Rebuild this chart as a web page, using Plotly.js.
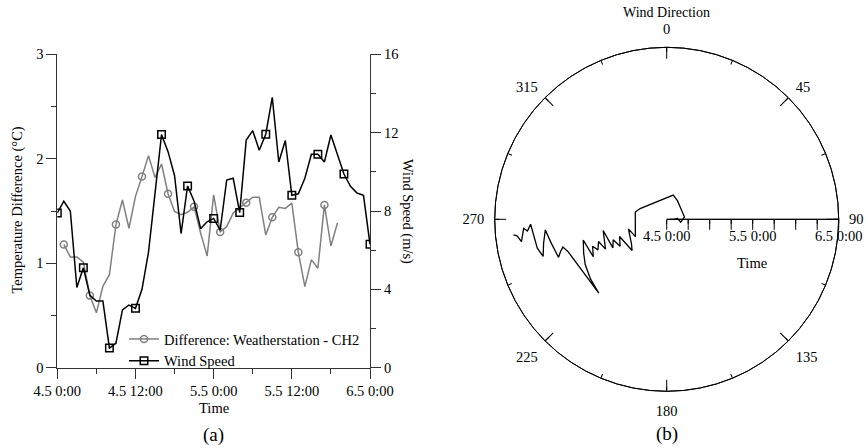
<!DOCTYPE html>
<html>
<head>
<meta charset="utf-8">
<script src="https://cdn.plot.ly/plotly-3.0.1.min.js"></script>
<style>html,body{margin:0;padding:0;background:#fff}#chart{width:865px;height:448px}</style>
</head>
<body>
<div id="chart"></div>
<script>
// ---- data (hours since 4.5 0:00) ----
const windHours = [0,1,2,3,4,5,6,7,8,9,10,11,12,13,14,15,16,17,18,19,20,21,22,23,24,25,26,27,28,29,30,31,32,33,34,35,36,37,38,39,40,41,42,43,44,45,46,47,48];
const windSpeed = [7.9,8.5,8.0,4.1,5.1,3.7,3.4,3.4,1.0,1.25,2.95,3.2,3.03,4.0,5.9,9.0,11.9,11.03,9.8,6.85,9.28,8.5,7.1,7.45,7.62,7.02,9.58,9.67,7.92,11.62,12.1,11.1,11.92,13.8,10.5,11.6,8.8,8.88,9.67,10.9,10.9,10.5,11.88,10.88,9.89,9.26,8.92,8.8,6.3];
const diffHours = [1,2,3,4,5,6,7,8,9,10,11,12,13,14,15,16,17,18,19,20,21,22,23,24,25,26,27,28,29,30,31,32,33,34,35,36,37,38,39,40,41,42,43];
const tempDiff = [1.18,1.06,1.06,1.01,0.69,0.525,0.78,0.89,1.37,1.605,1.335,1.64,1.83,2.03,1.82,1.95,1.665,1.495,1.465,1.488,1.54,1.288,1.07,1.655,1.30,1.35,1.48,1.53,1.58,1.632,1.632,1.27,1.44,1.535,1.525,1.575,1.105,0.776,1.035,0.952,1.558,1.165,1.385];
const dirHours = [1,2,3,4,5,6,7,8,9,10,11,12,13,14,15,16,17,18,19,20,21,22,23,24,25,26,27,28,29,30,31,32,33,34,35,36,37,38,39,40,41,42,43];
const windDir = [90,90,85,102,82,30,15,292,283,241,256,235,228,250,240,249,242,260,244,252,246,250,243,256,248,241,232,222.6,252,255,253,250.6,259,265,259,253.3,257.4,267.9,265.2,266.4,261.3,263.7,264.2];
const timeTickVals = [0,12,24,36,48];
const timeTickText = ['4.5 0:00','4.5 12:00','5.5 0:00','5.5 12:00','6.5 0:00'];
const radialTickVals = [0,6,12,18,24,30,36,42,48];
const radialTickText = ['4.5 0:00','','','','5.5 0:00','','','','6.5 0:00'];
const dirMinorVals = [0,22.5,45,67.5,90,112.5,135,157.5,180,202.5,225,247.5,270,292.5,315,337.5];
const dirMajorVals = [0,45,90,135,180,225,270,315];
const dirLabels = ['0','45','90','135','180','225','270','315'];

const FONT = '"Liberation Serif", "Times New Roman", Times, serif';
const FS = 14.5;
const W = 865, H = 448;
const px = v => v / W, py = v => 1 - v / H;
const every4 = (arr) => arr.map((v, i) => (i % 4 === 0 ? v : null));

const traces = [
  {x: diffHours, y: tempDiff, mode: 'lines', line: {color: '#808080', width: 1.5}, showlegend: false, hoverinfo: 'skip', xaxis: 'x', yaxis: 'y'},
  {x: diffHours, y: every4(tempDiff), mode: 'lines+markers', connectgaps: false, name: 'Difference: Weatherstation - CH2',
   line: {color: '#808080', width: 1.5}, marker: {symbol: 'circle-open', size: 7, color: '#808080', line: {width: 1.5}}, xaxis: 'x', yaxis: 'y'},
  {x: windHours, y: windSpeed, mode: 'lines', line: {color: '#000', width: 1.5}, showlegend: false, hoverinfo: 'skip', xaxis: 'x', yaxis: 'y2'},
  {x: windHours, y: every4(windSpeed), mode: 'lines+markers', connectgaps: false, name: 'Wind Speed',
   line: {color: '#000', width: 1.5}, marker: {symbol: 'square-open', size: 7.5, color: '#000', line: {width: 1.5}}, xaxis: 'x', yaxis: 'y2'},
  {type: 'scatterpolar', r: dirHours, theta: windDir, mode: 'lines', line: {color: '#000', width: 1.3}, showlegend: false, subplot: 'polar'},
  {type: 'scatterpolar', r: [], theta: [], mode: 'lines', showlegend: false, subplot: 'polar2'},
  {type: 'scatterpolar', r: [], theta: [], mode: 'lines', showlegend: false, subplot: 'polar3'}
];

const axCol = '#333';
const polDomain = {x: [px(666.7 - 172), px(666.7 + 172)], y: [1 - (219.3 + 172) / H, 1 - (219.3 - 172) / H]};
const layout = {
  width: W, height: H,
  margin: {l: 0, r: 0, t: 0, b: 0},
  paper_bgcolor: '#fff', plot_bgcolor: '#fff',
  font: {family: FONT, size: FS, color: '#000'},
  showlegend: true,
  legend: {x: px(124), y: py(323), xanchor: 'left', yanchor: 'top', bgcolor: 'rgba(0,0,0,0)', font: {family: FONT, size: FS}, tracegroupgap: 0},
  xaxis: {domain: [px(57.3), px(370)], range: [0, 48], tickmode: 'array', tickvals: timeTickVals, ticktext: timeTickText,
          ticks: 'outside', ticklen: 10, tickcolor: axCol, showline: true, linecolor: axCol, linewidth: 1,
          showgrid: false, zeroline: false, automargin: false, tickfont: {family: FONT, size: FS},
          minor: {tickmode: 'linear', tick0: 0, dtick: 6, ticks: 'outside', ticklen: 5, tickcolor: axCol, showgrid: false}},
  yaxis: {domain: [1 - 367.7 / H, 1 - 54.3 / H], range: [0, 3], tickmode: 'linear', tick0: 0, dtick: 1,
          ticks: 'outside', ticklen: 10, tickcolor: axCol, showline: true, linecolor: axCol, linewidth: 1,
          showgrid: false, zeroline: false, automargin: false, tickfont: {family: FONT, size: FS},
          minor: {tickmode: 'linear', tick0: 0, dtick: 0.5, ticks: 'outside', ticklen: 5, tickcolor: axCol, showgrid: false}},
  yaxis2: {overlaying: 'y', side: 'right', anchor: 'x', range: [0, 16], tickmode: 'linear', tick0: 0, dtick: 4,
           ticks: 'outside', ticklen: 10, tickcolor: axCol, showline: true, linecolor: axCol, linewidth: 1,
           showgrid: false, zeroline: false, automargin: false, tickfont: {family: FONT, size: FS},
           minor: {tickmode: 'linear', tick0: 0, dtick: 2, ticks: 'outside', ticklen: 5, tickcolor: axCol, showgrid: false}},
  polar: {
    domain: polDomain,
    bgcolor: 'rgba(0,0,0,0)',
    angularaxis: {rotation: 90, direction: 'clockwise', tickmode: 'array', tickvals: dirMajorVals, ticktext: dirLabels,
                  ticks: 'outside', ticklen: 7, tickcolor: 'rgba(0,0,0,0)', showline: true, linecolor: '#000', linewidth: 1,
                  showgrid: false, tickfont: {family: FONT, size: FS}},
    radialaxis: {range: [0, 48], angle: 0, side: 'clockwise', tickmode: 'array', tickvals: radialTickVals, ticktext: radialTickText,
                 ticks: 'outside', ticklen: 4, tickcolor: '#000', showline: true, linecolor: '#000', linewidth: 1,
                 showgrid: false, tickangle: 0, tickfont: {family: FONT, size: FS}}
  },
  polar2: {
    domain: polDomain,
    bgcolor: 'rgba(0,0,0,0)',
    angularaxis: {rotation: 90, direction: 'clockwise', tickmode: 'array', tickvals: dirMajorVals, showticklabels: false,
                  ticks: 'inside', ticklen: 11, tickcolor: '#000', showline: true, linecolor: '#000', linewidth: 1, showgrid: false},
    radialaxis: {range: [0, 48], angle: 0, side: 'clockwise', tickmode: 'array', tickvals: radialTickVals, showticklabels: false,
                 ticks: 'outside', ticklen: 10, tickcolor: '#000', showline: true, linecolor: '#000', linewidth: 1, showgrid: false}
  },
  polar3: {
    domain: polDomain,
    bgcolor: 'rgba(0,0,0,0)',
    angularaxis: {rotation: 90, direction: 'clockwise', tickmode: 'array', tickvals: dirMinorVals, showticklabels: false,
                  ticks: 'inside', ticklen: 4, tickcolor: '#000', showline: false, showgrid: false},
    radialaxis: {visible: false, range: [0, 48]}
  },
  annotations: [
    {text: 'Temperature Difference (°C)', x: px(17), y: py(210.5), textangle: -90},
    {text: 'Wind Speed (m/s)', x: px(407), y: py(211), textangle: 90},
    {text: 'Time', x: px(213.5), y: py(408)},
    {text: '(a)', x: px(213.5), y: py(435), font: {family: FONT, size: 19}},
    {text: 'Wind Direction', x: px(666.7), y: py(12.5), font: {family: FONT, size: 14}},
    {text: 'Time', x: px(752), y: py(263)},
    {text: '(b)', x: px(666.7), y: py(434), font: {family: FONT, size: 19}}
  ].map(a => Object.assign({xref: 'paper', yref: 'paper', xanchor: 'center', yanchor: 'middle', showarrow: false,
                            font: {family: FONT, size: FS, color: '#000'}}, a))
};

Plotly.newPlot('chart', traces, layout, {staticPlot: true, displayModeBar: false});
</script>
</body>
</html>
